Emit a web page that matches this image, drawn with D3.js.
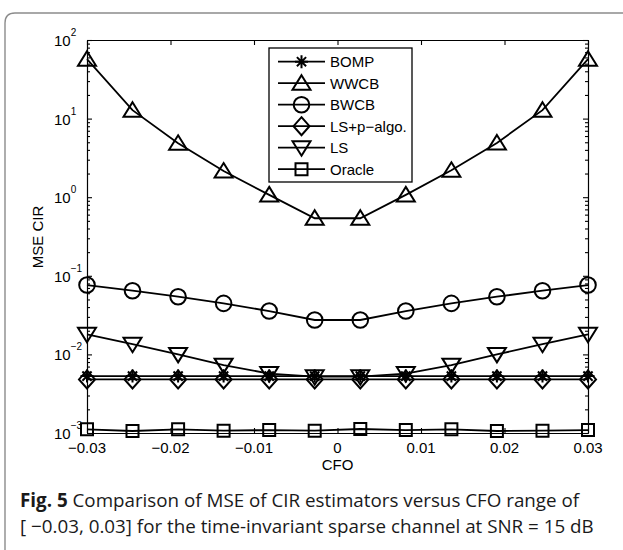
<!DOCTYPE html>
<html>
<head>
<meta charset="utf-8">
<script src="https://cdn.jsdelivr.net/npm/d3@7"></script>
<style>
  body { margin: 0; background: #fff; }
  svg { display: block; }
  .axis path, .axis line { stroke: #000; stroke-width: 1.1; }
</style>
</head>
<body>
<svg id="svg" width="623" height="550"></svg>
<script>
// values
const cfo = [-0.03, -0.02455, -0.01909, -0.01364, -0.00818, -0.00273,
             0.00273, 0.00818, 0.01364, 0.01909, 0.02455, 0.03];
const bomp = [0.0053, 0.0053, 0.0053, 0.0053, 0.0053, 0.0053,
              0.0053, 0.0053, 0.0053, 0.0053, 0.0053, 0.0053];
const wwcb = [57, 12.8, 4.85, 2.15, 1.07, 0.54, 0.54, 1.07, 2.2, 4.9, 12.8, 57];
const bwcb = [0.0763, 0.0646, 0.0542, 0.0446, 0.0356, 0.0274,
              0.0274, 0.0356, 0.0446, 0.0542, 0.0646, 0.0763];
const lsp = [0.0048, 0.0048, 0.0048, 0.0048, 0.0048, 0.0048,
             0.0048, 0.0048, 0.0048, 0.0048, 0.0048, 0.0048];
const ls = [0.018, 0.0135, 0.0100, 0.0073, 0.0057, 0.0052,
            0.0052, 0.0057, 0.0073, 0.0100, 0.0135, 0.018];
const oracle = [0.001114, 0.00106, 0.001114, 0.00107, 0.00109, 0.00107,
                0.001125, 0.00109, 0.001114, 0.00106, 0.00107, 0.00109];

const seriesNames = ["BOMP", "WWCB", "BWCB", "LS+p\u2212algo.", "LS", "Oracle"];
const markerTypes = ["star", "triUp", "circle", "diamond", "triDown", "square"];
const xTicks = [-0.03, -0.02, -0.01, 0, 0.01, 0.02, 0.03];
const xTickLabels = ["\u22120.03", "\u22120.02", "\u22120.01", "0", "0.01", "0.02", "0.03"];
const yTicks = [1e-3, 1e-2, 1e-1, 1e0, 1e1, 1e2];
const yExponents = ["\u22123", "\u22122", "\u22121", "0", "1", "2"];
const xLabel = "CFO";
const yLabel = "MSE CIR";

const svg = d3.select("#svg");
const font = "'Liberation Sans', Arial, Helvetica, sans-serif";

// outer frame of the figure box
svg.append("path")
  .attr("d", "M5,551 L5,23 Q5,13 15,13 L624,13")
  .attr("fill", "none")
  .attr("stroke", "#8c8c8c")
  .attr("stroke-width", 1.4);

const pLeft = 87, pRight = 588, pTop = 40, pBottom = 433;
const x = d3.scaleLinear().domain([-0.03, 0.03]).range([pLeft, pRight]);
const y = d3.scaleLog().domain([1e-3, 1e2]).range([pBottom, pTop]);

// minor log ticks
const minor = [];
for (let e = -3; e < 2; e++) {
  for (let k = 2; k <= 9; k++) minor.push(k * Math.pow(10, e));
}

const g = svg.append("g");

g.append("g").attr("class", "axis")
  .attr("transform", `translate(0,${pBottom})`)
  .call(d3.axisBottom(x).tickValues(xTicks).tickSizeInner(-5).tickSizeOuter(0).tickFormat(""));
g.append("g").attr("class", "axis")
  .attr("transform", `translate(0,${pTop})`)
  .call(d3.axisTop(x).tickValues(xTicks).tickSizeInner(-5).tickSizeOuter(0).tickFormat(""));
g.append("g").attr("class", "axis")
  .attr("transform", `translate(${pLeft},0)`)
  .call(d3.axisLeft(y).tickValues(yTicks).tickSizeInner(-5).tickSizeOuter(0).tickFormat(""));
g.append("g").attr("class", "axis")
  .attr("transform", `translate(${pRight},0)`)
  .call(d3.axisRight(y).tickValues(yTicks).tickSizeInner(-5).tickSizeOuter(0).tickFormat(""));
g.append("g").attr("class", "axis")
  .attr("transform", `translate(${pLeft},0)`)
  .call(d3.axisLeft(y).tickValues(minor).tickSizeInner(-3).tickSizeOuter(0).tickFormat(""));
g.append("g").attr("class", "axis")
  .attr("transform", `translate(${pRight},0)`)
  .call(d3.axisRight(y).tickValues(minor).tickSizeInner(-3).tickSizeOuter(0).tickFormat(""));

// x tick labels
g.append("g")
  .selectAll("text")
  .data(xTicks)
  .join("text")
  .attr("x", d => x(d))
  .attr("y", pBottom + 20)
  .attr("text-anchor", "middle")
  .attr("font-family", font)
  .attr("font-size", 15)
  .text((d, i) => xTickLabels[i]);

// y tick labels with superscript exponents
const yl = g.append("g")
  .selectAll("text")
  .data(yTicks)
  .join("text")
  .attr("x", pLeft - 33)
  .attr("y", d => y(d) + 6)
  .attr("font-family", font)
  .attr("font-size", 15);
yl.append("tspan").text("10");
yl.append("tspan")
  .attr("dy", -10)
  .attr("font-size", 10)
  .text((d, i) => yExponents[i]);

// axis titles
g.append("text")
  .attr("x", (pLeft + pRight) / 2)
  .attr("y", 470)
  .attr("text-anchor", "middle")
  .attr("font-family", font)
  .attr("font-size", 15)
  .text(xLabel);
g.append("text")
  .attr("transform", `translate(43,237) rotate(-90)`)
  .attr("text-anchor", "middle")
  .attr("font-family", font)
  .attr("font-size", 15)
  .text(yLabel);

// marker shapes
function markerPath(type) {
  switch (type) {
    case "star":
      return "M-6.5,0L6.5,0M0,-6.5L0,6.5M-4.6,-4.6L4.6,4.6M-4.6,4.6L4.6,-4.6";
    case "triUp":
      return "M0,-8L9,6.5L-9,6.5Z";
    case "triDown":
      return "M0,8L9,-6.5L-9,-6.5Z";
    case "circle":
      return "M7.8,0A7.8,7.8 0 1 1 -7.8,0A7.8,7.8 0 1 1 7.8,0Z";
    case "diamond":
      return "M0,-9L8,0L0,9L-8,0Z";
    case "square":
      return "M-6,-6L6,-6L6,6L-6,6Z";
    default:
      return "";
  }
}

const allSeries = [bomp, wwcb, bwcb, lsp, ls, oracle];
const line = d3.line()
  .x((d, i) => x(cfo[i]))
  .y(d => y(d));

allSeries.forEach((vals, s) => {
  g.append("path")
    .datum(vals)
    .attr("d", line)
    .attr("fill", "none")
    .attr("stroke", "#000")
    .attr("stroke-width", 1.8);
  g.append("g")
    .selectAll("path")
    .data(vals)
    .join("path")
    .attr("transform", (d, i) => `translate(${x(cfo[i])},${y(d)})`)
    .attr("d", markerPath(markerTypes[s]))
    .attr("fill", "none")
    .attr("stroke", "#000")
    .attr("stroke-width", 2);
});

// legend
const legend = svg.append("g").attr("transform", "translate(269,48)");
legend.append("rect")
  .attr("width", 143)
  .attr("height", 134)
  .attr("fill", "#fff")
  .attr("stroke", "#000")
  .attr("stroke-width", 1.3);
const item = legend.selectAll("g.item")
  .data(seriesNames)
  .join("g")
  .attr("class", "item")
  .attr("transform", (d, i) => `translate(0,${13.7 + i * 21.5})`);
item.append("line")
  .attr("x1", 9).attr("x2", 56)
  .attr("stroke", "#000").attr("stroke-width", 1.8);
item.append("path")
  .attr("transform", "translate(32.5,0)")
  .attr("d", (d, i) => markerPath(markerTypes[i]))
  .attr("fill", "none")
  .attr("stroke", "#000")
  .attr("stroke-width", 2);
item.append("text")
  .attr("x", 61)
  .attr("y", 5.5)
  .attr("font-family", font)
  .attr("font-size", 15)
  .text(d => d);

// caption
const capFont = "'Open Sans', 'Noto Sans', sans-serif";
const cap1 = svg.append("text")
  .attr("x", 20).attr("y", 507)
  .attr("font-family", capFont)
  .attr("font-size", 18.8)
  .attr("fill", "#1a1a1a");
cap1.append("tspan").attr("font-weight", "bold").text("Fig. 5");
cap1.append("tspan").text(" Comparison of MSE of CIR estimators versus CFO range of");
svg.append("text")
  .attr("x", 20).attr("y", 533)
  .attr("font-family", capFont)
  .attr("font-size", 18.8)
  .attr("fill", "#1a1a1a")
  .text("[ \u22120.03, 0.03] for the time-invariant sparse channel at SNR = 15 dB");
</script>
</body>
</html>
